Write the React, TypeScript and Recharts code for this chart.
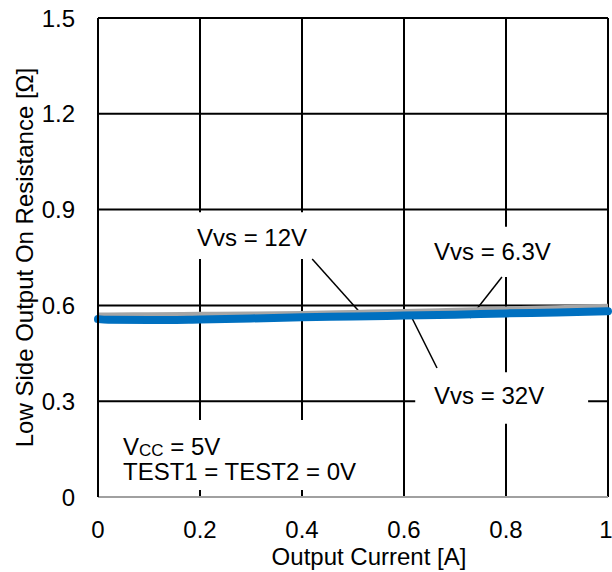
import { LineChart, Line, XAxis, YAxis, CartesianGrid, ReferenceArea, ReferenceLine, ReferenceDot, Label } from "recharts"

const currents = [0, 0.02, 0.1, 0.2, 0.3, 0.4, 0.5, 0.6, 0.7, 0.8, 0.9, 1]
const vvs63 = [0.568, 0.567, 0.566, 0.566, 0.567, 0.569, 0.571, 0.574, 0.577, 0.58, 0.583, 0.587]
const vvs12 = [0.57, 0.57, 0.571, 0.572, 0.573, 0.575, 0.578, 0.581, 0.585, 0.589, 0.593, 0.597]
const vvs32 = [0.557, 0.555, 0.554, 0.556, 0.559, 0.563, 0.565, 0.568, 0.571, 0.575, 0.578, 0.582]

const xTicks = [0, 0.2, 0.4, 0.6, 0.8, 1]
const yTicks = [0, 0.3, 0.6, 0.9, 1.2, 1.5]

const data = currents.map((c, i) => ({
  current: c,
  v63: vvs63[i],
  v12: vvs12[i],
  v32: vvs32[i],
}))

const font = "'Liberation Sans', Arial, sans-serif"

// white boxes behind the notes, they cut through the grid like in the original
const boxes = [
  { x1: 0.18, x2: 0.42, y1: 0.745, y2: 0.892 },
  { x1: 0.631, x2: 0.906, y1: 0.689, y2: 0.846 },
  { x1: 0.622, x2: 0.961, y1: 0.229, y2: 0.391 },
  { x1: 0.004, x2: 0.533, y1: 0.022, y2: 0.241 },
]

const leaders = [
  [{ x: 0.42, y: 0.745 }, { x: 0.5235, y: 0.5605 }],
  [{ x: 0.792, y: 0.689 }, { x: 0.729, y: 0.5605 }],
  [{ x: 0.6647, y: 0.404 }, { x: 0.6157, y: 0.5605 }],
]

const notes = [
  { x: 0.196, y: 0.814, text: "Vvs = 12V" },
  { x: 0.661, y: 0.77, text: "Vvs = 6.3V" },
  { x: 0.661, y: 0.319, text: "Vvs = 32V" },
]

const noteText = (text: string) => (props: any) => {
  const vb = props.viewBox
  return (
    <text x={vb.x} y={vb.y + vb.height / 2} fontSize={24} fontFamily={font} fill="#000" dominantBaseline="central">
      {text}
    </text>
  )
}

const vccText = (props: any) => {
  const vb = props.viewBox
  return (
    <text x={vb.x} y={vb.y + vb.height / 2} fontSize={24} fontFamily={font} fill="#000" dominantBaseline="central">
      <tspan>V</tspan>
      <tspan fontSize={17} dy={4}>CC</tspan>
      <tspan dy={-4}> = 5V</tspan>
    </text>
  )
}

const App = () => {
  return (
    <div style={{ position: "absolute", left: 0, top: 0 }}>
      <LineChart width={612} height={572} data={data} margin={{ top: 18, right: 4, bottom: 0, left: 0 }}>
        <CartesianGrid stroke="#000" strokeWidth={2} />
        <XAxis
          dataKey="current"
          type="number"
          domain={[0, 1]}
          ticks={xTicks}
          height={75}
          tickSize={0}
          tickMargin={24}
          axisLine={{ stroke: "#a0a0a0", strokeWidth: 2 }}
          tick={{ fontSize: 24, fill: "#000", fontFamily: font }}
        >
          <Label
            content={(props: any) => {
              const vb = props.viewBox
              return (
                <text x={vb.x + vb.width / 2 + 16} y={vb.y + 68} textAnchor="middle" fontSize={24} fontFamily={font} fill="#000">
                  Output Current [A]
                </text>
              )
            }}
          />
        </XAxis>
        <YAxis
          type="number"
          domain={[0, 1.5]}
          ticks={yTicks}
          width={98}
          tickSize={0}
          tickMargin={23}
          axisLine={{ stroke: "#000", strokeWidth: 2 }}
          tick={{ fontSize: 24, fill: "#000", fontFamily: font }}
        >
          <Label
            content={(props: any) => {
              const vb = props.viewBox
              const cx = vb.x + 24
              const cy = vb.y + vb.height / 2
              return (
                <text x={cx} y={cy} transform={`rotate(-90 ${cx} ${cy})`} textAnchor="middle" dominantBaseline="central" fontSize={24} fontFamily={font} fill="#000">
                  Low Side Output On Resistance [Ω]
                </text>
              )
            }}
          />
        </YAxis>
        {boxes.map((b, i) => (
          <ReferenceArea key={"b" + i} x1={b.x1} x2={b.x2} y1={b.y1} y2={b.y2} fill="#fff" fillOpacity={1} stroke="none" />
        ))}
        {leaders.map((s, i) => (
          <ReferenceLine key={"l" + i} segment={s} stroke="#000" strokeWidth={1.5} />
        ))}
        {notes.map((n, i) => (
          <ReferenceDot key={"n" + i} x={n.x} y={n.y} r={1} fillOpacity={0} stroke="none" label={{ content: noteText(n.text) }} />
        ))}
        <ReferenceDot x={0.051} y={0.16} r={1} fillOpacity={0} stroke="none" label={{ content: vccText }} />
        <ReferenceDot x={0.051} y={0.0814} r={1} fillOpacity={0} stroke="none" label={{ content: noteText("TEST1 = TEST2 = 0V") }} />
        <Line type="monotone" dataKey="v63" stroke="#e02020" strokeWidth={4} dot={false} isAnimationActive={false} />
        <Line type="monotone" dataKey="v12" stroke="#a6a6a6" strokeWidth={5} dot={false} isAnimationActive={false} />
        <Line type="monotone" dataKey="v32" stroke="#0070c0" strokeWidth={8} strokeLinecap="round" dot={false} isAnimationActive={false} />
      </LineChart>
    </div>
  )
}

export default App
